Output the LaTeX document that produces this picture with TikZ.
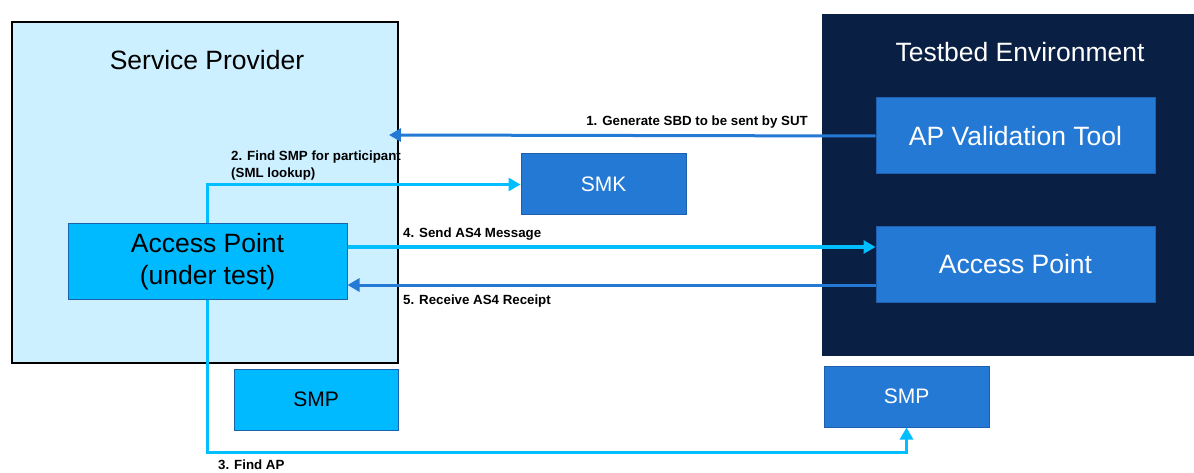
\documentclass[tikz,border=0pt]{standalone}
\usepackage{fontspec}
\setmainfont{Liberation Sans}
\usetikzlibrary{arrows.meta}
\definecolor{spfill}{RGB}{204,240,255}
\definecolor{cyanb}{RGB}{0,186,255}
\definecolor{cyanline}{RGB}{0,190,255}
\definecolor{midblue}{RGB}{36,121,213}
\definecolor{midborder}{RGB}{30,95,175}
\definecolor{navy}{RGB}{10,31,68}
\tikzset{
  midbox/.style={draw=midborder, line width=1pt, fill=midblue, text=white, inner sep=0pt, align=center},
  cyanbox/.style={draw=midblue!80!black, line width=1pt, fill=cyanb, text=black, inner sep=0pt, align=center},
  big/.style={font=\fontsize{26.5}{32.5}\selectfont},
  small/.style={font=\fontsize{21}{25}\selectfont},
  lab/.style={font=\bfseries\fontsize{13.3}{17}\selectfont, inner sep=0pt, align=left},
  cyanarrow/.style={draw=cyanline, line width=3pt, -{Triangle[length=12pt,width=13pt]}},
  bluearrow/.style={draw=midblue, line width=3pt, -{Triangle[length=12pt,width=13pt]}},
}
\begin{document}
\begin{tikzpicture}[x=1pt,y=-1pt]
\useasboundingbox (0,0) rectangle (1194,473);
\fill[white] (0,0) rectangle (1194,473);
% containers
\draw[fill=spfill, line width=2pt] (12,22) rectangle (398,363);
\node[font=\fontsize{26.5}{31}\selectfont] (sptitle) at (207,60) {Service Provider};
\fill[navy] (822,14) rectangle (1194,356);
\node[font=\fontsize{26.5}{31}\selectfont, text=white] (tbtitle) at (1020,52) {Testbed Environment};
% boxes
\node[cyanbox, big, minimum width=279pt, minimum height=75pt] (ap) at (207.5,261.5) {Access Point\\(under test)};
\node[midbox, big, minimum width=279pt, minimum height=76pt] (apv) at (1015.5,136) {AP Validation Tool};
\node[midbox, big, minimum width=279pt, minimum height=75pt] (apr) at (1015.5,264.5) {Access Point};
\node[midbox, small, minimum width=165pt, minimum height=61pt] (smk) at (603.5,184.5) {SMK};
\node[cyanbox, small, minimum width=164pt, minimum height=61pt] (smpl) at (316,399.5) {SMP};
\node[midbox, small, minimum width=165pt, minimum height=61pt] (smpr) at (906.5,396.5) {SMP};
% coordinates
\coordinate (a1end) at (389,135);
\coordinate (a3corner) at (207.5,452);
% arrows
\draw[bluearrow] (apv.west) -- (a1end);
\draw[cyanarrow] (ap.north) |- (smk.west);
\draw[cyanarrow] (ap.south) -- (a3corner) -| (smpr.south);
\draw[cyanarrow] ([yshift=14.5pt]ap.east) -- ([yshift=17.5pt]apr.west);
\draw[bluearrow] ([yshift=-20.5pt]apr.west) -- ([yshift=-23.5pt]ap.east);
% labels
\node[lab, anchor=east] (l1) at (808,122) {1. Generate SBD to be sent by SUT};
\node[lab, anchor=north west] (l2) at (231,151) {2. Find SMP for participant\\(SML lookup)};
\node[lab, anchor=west] (l3) at (218,465) {3. Find AP};
\node[lab, anchor=west] (l4) at (403,234) {4. Send AS4 Message};
\node[lab, anchor=west] (l5) at (403,301) {5. Receive AS4 Receipt};
\end{tikzpicture}
\end{document}
